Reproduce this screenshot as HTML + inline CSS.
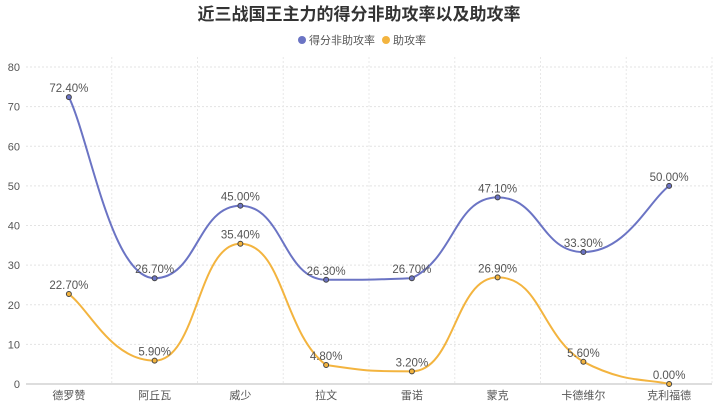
<!DOCTYPE html>
<html><head><meta charset="utf-8"><style>
body{margin:0;background:#fff;font-family:"Liberation Sans","Noto Sans CJK SC",sans-serif}
svg text{font-family:"Liberation Sans","Noto Sans CJK SC",sans-serif}
</style></head><body>
<svg id="c" width="719" height="405" xmlns="http://www.w3.org/2000/svg">
<text x="359" y="20" text-anchor="middle" font-size="17" font-weight="bold" fill="#333">近三战国王主力的得分非助攻率以及助攻率</text>
<g>
<g><circle cx="302" cy="40" r="4" fill="#6b74c4"/><text x="309" y="44" font-size="11" fill="#555">得分非助攻率</text></g>
<g><circle cx="386" cy="40" r="4" fill="#f3b43f"/><text x="393" y="44" font-size="11" fill="#555">助攻率</text></g>
</g>
<g id="grid"></g>
<g id="series"></g>
</svg>
<script>
const categories=["德罗赞","阿丘瓦","威少","拉文","雷诺","蒙克","卡德维尔","克利福德"];
const scoreRate=[72.4,26.7,45.0,26.3,26.7,47.1,33.3,50.0];
const assistRate=[22.7,5.9,35.4,4.8,3.2,26.9,5.6,0.0];
const yTicks=[0,10,20,30,40,50,60,70,80];
const NS="http://www.w3.org/2000/svg";
const L=26,R=712,T=67,B=384,yMax=80;
const bw=(R-L)/categories.length;
const x=i=>L+bw*(i+0.5);
const y=v=>B-(v/yMax)*(B-T);
const grid=document.getElementById('grid'),ser=document.getElementById('series');
function mk(t,a,p){const e=document.createElementNS(NS,t);for(const k in a)e.setAttribute(k,a[k]);p.appendChild(e);return e;}
yTicks.forEach(v=>{
 if(v>0){const l=mk('line',{x1:L,x2:R,y1:y(v),y2:y(v),stroke:'#e3e3e3','stroke-dasharray':'2,2'},grid);
 }
 const t=mk('text',{x:L-6,y:y(v)+4,'text-anchor':'end','font-size':11,fill:'#555'},grid);t.textContent=v;
 
});
for(let i=1;i<=categories.length;i++){const l=mk('line',{x1:L+bw*i,x2:L+bw*i,y1:T-10,y2:B,stroke:'#e8e8e8','stroke-dasharray':'2,2'},grid);
 }
const ax=mk('line',{x1:L,x2:R,y1:B,y2:B,stroke:'#bbb'},grid);

categories.forEach((c,i)=>{const t=mk('text',{x:x(i),y:B+15,'text-anchor':'middle','font-size':11,fill:'#555'},grid);t.textContent=c;
 });
const clamp=(v,a,b)=>Math.max(Math.min(a,b),Math.min(Math.max(a,b),v));
function draw(vals,color,name){
 const p=vals.map((v,i)=>[x(i),y(v)]);
 let d='M'+p[0][0]+','+p[0][1];
 for(let i=0;i<p.length-1;i++){const p0=p[Math.max(0,i-1)],p1=p[i],p2=p[i+1],p3=p[Math.min(p.length-1,i+2)];
  const s=0.25;
  const c1=[p1[0]+(p2[0]-p0[0])*s,clamp(p1[1]+(p2[1]-p0[1])*s,p1[1],p2[1])];
  const c2=[p2[0]-(p3[0]-p1[0])*s,clamp(p2[1]-(p3[1]-p1[1])*s,p1[1],p2[1])];
  // horizontal tangent at local extrema
  if(i>0&&(p1[1]-p0[1])*(p2[1]-p1[1])<=0)c1[1]=p1[1];
  if(i+2<p.length&&(p2[1]-p1[1])*(p3[1]-p2[1])<=0)c2[1]=p2[1];
  d+=' C'+c1+' '+c2+' '+p2;}
 const pa=mk('path',{d:d,fill:'none',stroke:color,'stroke-width':2},ser);
 
 vals.forEach((v,i)=>{const ci=mk('circle',{cx:p[i][0],cy:p[i][1],r:2.5,fill:color,stroke:'#444','stroke-width':1},ser);
  
  const t=mk('text',{x:p[i][0],y:p[i][1]-5,'text-anchor':'middle','font-size':11.5,fill:'#555'},ser);t.textContent=v.toFixed(2)+'%';
  });
}
draw(scoreRate,'#6b74c4','score-rate');
draw(assistRate,'#f3b43f','assist-rate');
</script>
</body></html>
